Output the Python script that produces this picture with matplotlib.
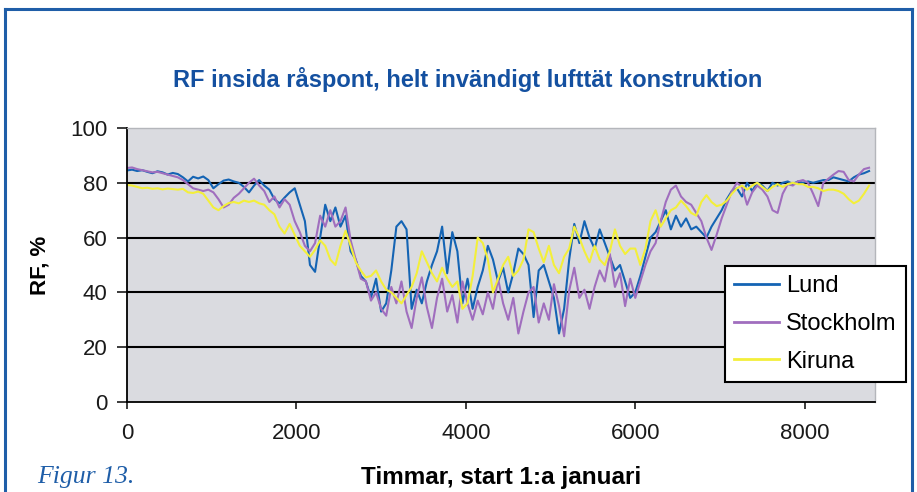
import matplotlib
matplotlib.use("Agg")
import matplotlib.pyplot as plt
from matplotlib.lines import Line2D
import numpy as np

plt.rcParams['font.family'] = ['Liberation Sans', 'DejaVu Sans']

# timmar (var 60:e timme), avläst ur originalfiguren
hours = np.arange(0, 8761, 60)

lund = [
    84.5, 84.8, 84.3, 84.6, 84.0, 83.5, 84.2, 83.8, 83.0, 83.6,
    83.2, 82.0, 80.5, 82.2, 81.6, 82.3, 81.0, 78.0, 79.5, 80.8,
    81.2, 80.5, 80.0, 78.5, 76.5, 79.0, 81.0, 79.0, 77.5, 74.0,
    72.5, 74.6, 76.5, 78.0, 72.0, 66.0, 50.0, 47.5, 60.0, 72.0,
    66, 71, 64, 68, 55, 52, 46, 44, 38, 45,
    33, 36, 48, 64, 66, 63, 34, 41, 36, 44,
    50, 55, 64, 47, 62, 55, 36, 45, 34, 42,
    48, 57, 52, 44, 49, 40, 47, 56, 54, 50,
    31, 48, 50, 44, 38, 25, 34, 52, 65, 58,
    66, 60, 56, 63, 58, 53, 48, 50, 44, 38,
    40, 46, 53, 60, 62, 66, 70, 63, 68, 64,
    67, 63, 64, 62, 60, 64, 67, 70, 74, 77,
    78, 75, 80, 77, 80, 79, 77, 80, 79, 80,
    80.5, 79.5, 80.5, 80, 80.5, 80, 80.5, 81, 81, 82,
    81.5, 81.0, 80.5, 82, 83, 83.5, 84.3,
]

stockholm = [
    85.4, 85.6, 85.0, 84.6, 84.2, 83.8, 84.0, 83.5, 83.0, 82.5,
    82.0, 81.0, 79.5, 78.0, 77.5, 77.0, 77.5, 76.5, 74.0, 71.0,
    72.0, 74.5, 76.0, 78.0, 80.0, 81.5, 79.0, 77.0, 73.0, 75.0,
    71, 74, 72, 66, 62, 57, 55, 58, 68, 64,
    70, 64, 66, 71, 59, 52, 45, 44, 37, 40,
    34, 31.5, 42, 36, 44, 33, 27, 38, 45.5, 34.6,
    27, 38, 45, 33, 39, 29, 44, 36, 30, 37,
    32, 40, 34, 45, 36, 30, 38, 25, 33, 40,
    42, 29, 36, 30, 43, 35, 24, 40.7, 49, 38,
    41, 34, 42, 48, 44, 54, 42, 47, 35, 45,
    38, 44, 50, 55, 58, 66, 73, 77.5, 79, 75,
    73, 72, 69, 66, 60, 55.5, 61, 67, 72, 77,
    80, 78.5, 72, 76.5, 79, 77.5, 75, 70, 69, 76,
    79.5, 79, 80.5, 81, 80, 76, 71.5, 80, 81.5, 83,
    84.3, 84, 81, 80.5, 83, 85, 85.5,
]

kiruna = [
    79.2, 79.0, 78.5, 78.0, 78.2, 77.8, 78.0, 77.6, 77.9, 77.7,
    77.5, 77.8, 76.5, 76.3, 76.8, 76.0, 73.5, 71.0, 70.0, 71.5,
    72.6, 73.0, 72.5, 73.5, 73.0, 73.5, 72.5, 72.0, 70.0, 68.5,
    64, 61.5, 65, 61, 57, 55, 53, 55.5, 59, 57,
    52, 50, 57, 62.5, 57, 51, 48, 45.5, 46, 48,
    44, 41, 40, 38, 36, 39, 42, 47, 55, 51,
    47, 44, 49, 45, 42, 44, 34, 36, 46, 60,
    58, 52, 40, 45, 50, 53, 46, 48, 52, 63,
    62, 56, 51, 57, 50, 47, 53, 56, 64, 60,
    55, 51, 57, 52, 50, 55, 63, 57, 54, 56,
    56, 50, 56, 66, 70, 64, 67, 70, 71, 73.5,
    71.5, 69, 68, 73, 75.5, 73, 71.5, 72, 73.5, 76,
    78, 79, 77.5, 79, 80, 78.5, 77, 78.5, 79.5, 78.5,
    79.5, 80, 79.5, 79.5, 78.5, 78.5, 78, 77, 77.5, 77.5,
    77, 76, 74, 72.5, 73.5, 76, 79,
]

x_ticks = [0, 2000, 4000, 6000, 8000]
y_ticks = [0, 20, 40, 60, 80, 100]

W, H = 917, 492
fig = plt.figure(figsize=(W / 100, H / 100), dpi=100)
fig.patch.set_facecolor('white')

# blå ram runt figuren
frame_c = '#1f5ea8'
fig.add_artist(Line2D([5 / W, 5 / W], [0, 1 - 9 / H], transform=fig.transFigure, color=frame_c, lw=2.2))
fig.add_artist(Line2D([5 / W, 912 / W], [1 - 9 / H, 1 - 9 / H], transform=fig.transFigure, color=frame_c, lw=2.2))
fig.add_artist(Line2D([912 / W, 912 / W], [0, 1 - 9 / H], transform=fig.transFigure, color=frame_c, lw=2.2))

ax = fig.add_axes([127 / W, 1 - 402 / H, (875 - 127) / W, (402 - 128) / H])
ax.set_facecolor('#dadbe0')

ax.plot(hours, lund, color='#1464b4', lw=1.5, label='Lund')
ax.plot(hours, stockholm, color='#a06ebe', lw=1.5, label='Stockholm')
ax.plot(hours, kiruna, color='#f3ef3a', lw=1.5, label='Kiruna')

ax.set_xlim(0, 8830)
ax.set_ylim(0, 100)
ax.set_xticks(x_ticks)
ax.set_yticks(y_ticks)
ax.tick_params(axis='both', labelsize=16, colors='#1a1a1a', width=1.2)
ax.tick_params(axis='x', length=5, pad=10)
ax.tick_params(axis='y', length=7, pad=7)

ax.grid(axis='y', color='black', lw=1.5)
gl = ax.yaxis.get_gridlines()
gl[0].set_visible(False)
gl[-1].set_visible(False)

for s in ['left', 'bottom']:
    ax.spines[s].set_color('black')
    ax.spines[s].set_linewidth(1.3)
for s in ['top', 'right']:
    ax.spines[s].set_color('#b4b6bb')
    ax.spines[s].set_linewidth(1.0)

ax.set_xlabel('Timmar, start 1:a januari', fontsize=17.5, fontweight='bold', labelpad=16)
ax.set_ylabel('RF, %', fontsize=16, fontweight='bold', labelpad=14)

fig.text(468 / W, 1 - 87 / H, 'RF insida råspont, helt invändigt lufttät konstruktion',
         ha='center', va='baseline', fontsize=17, fontweight='bold', color='#1450a0')

fig.text(37 / W, 1 - 483 / H, 'Figur 13.', ha='left', va='baseline', fontsize=18.5,
         style='italic', color=frame_c, family=['Liberation Serif', 'DejaVu Serif'])

leg = ax.legend(loc='upper left', bbox_to_anchor=(725 / W, 1 - 266 / H),
                bbox_transform=fig.transFigure, fontsize=17, frameon=True, fancybox=False,
                framealpha=1, edgecolor='black', borderaxespad=0, borderpad=0.4,
                labelspacing=0.66, handlelength=1.9, handletextpad=0.3)
leg.get_frame().set_linewidth(1.5)
for h in leg.get_lines():
    h.set_linewidth(2)

fig.savefig('out.png', dpi=100)
